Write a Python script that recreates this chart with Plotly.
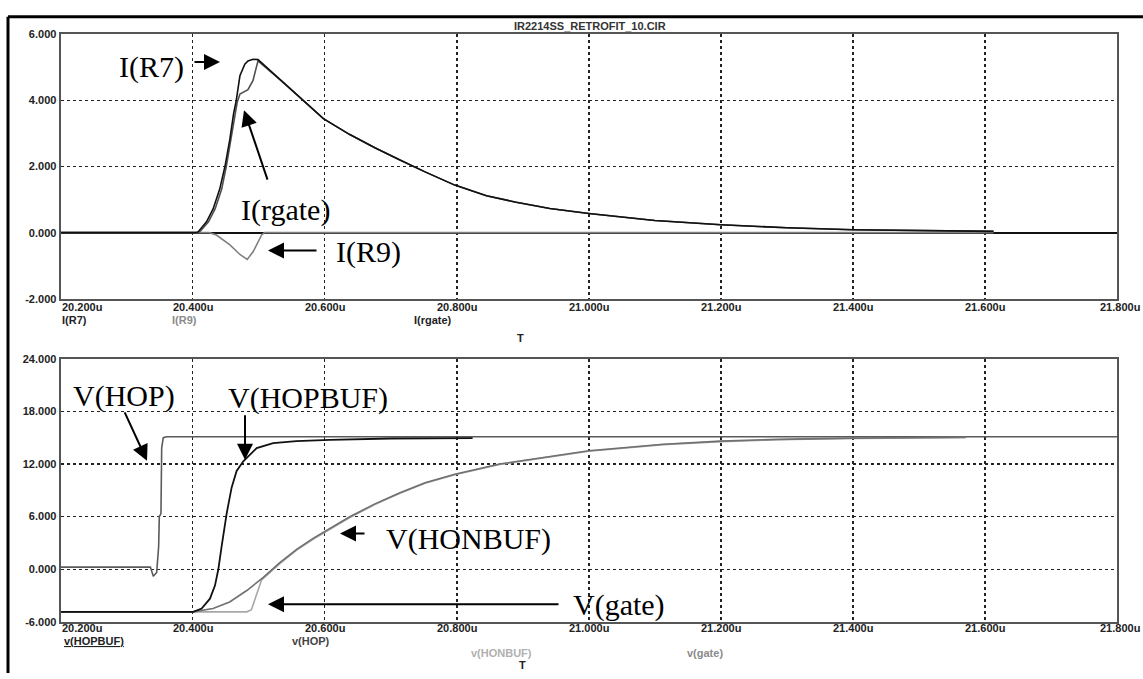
import plotly.graph_objects as go

W, H = 1143, 679
def px(x): return x / W
def py(y): return 1 - y / H

# ---------------- data (time in microseconds) ----------------
tick_t = [20.2, 20.4, 20.6, 20.8, 21.0, 21.2, 21.4, 21.6, 21.8]
top_ticks = [-2, 0, 2, 4, 6]
bot_ticks = [-6, 0, 6, 12, 18, 24]

t_r7 = [20.2, 20.405, 20.4085, 20.421, 20.431, 20.441, 20.449, 20.4565, 20.462, 20.466,
        20.4716, 20.479, 20.4838, 20.4915, 20.499, 20.537, 20.567, 20.598, 20.638, 20.676,
        20.714, 20.752, 20.797, 20.845, 20.89, 20.941, 21.0, 21.1, 21.2, 21.3, 21.4, 21.5,
        21.6, 21.613]
i_r7 = [0, 0, 0.03, 0.33, 0.72, 1.32, 2.01, 2.85, 3.6, 4.0,
        4.75, 5.1, 5.2, 5.25, 5.24, 4.55, 4.0, 3.45, 2.97, 2.57,
        2.2, 1.84, 1.44, 1.12, 0.92, 0.73, 0.58, 0.37, 0.24, 0.15, 0.09, 0.06,
        0.04, 0.04]

t_rgate = [20.2, 20.407, 20.411, 20.424, 20.434, 20.444, 20.451, 20.458, 20.4635, 20.4675,
           20.4716, 20.4766, 20.4838, 20.4913, 20.495, 20.499, 20.537, 20.567, 20.598, 20.638,
           20.676, 20.714, 20.752, 20.797, 20.845, 20.89, 20.941, 21.0, 21.1, 21.2, 21.3, 21.4,
           21.5, 21.6, 21.613]
i_rgate = [0, 0, 0.03, 0.33, 0.72, 1.32, 2.01, 2.8, 3.55, 3.95,
           4.2, 4.25, 4.33, 4.6, 4.85, 5.2, 4.55, 4.0, 3.45, 2.97,
           2.57, 2.2, 1.84, 1.44, 1.12, 0.92, 0.73, 0.58, 0.37, 0.24, 0.15, 0.09,
           0.06, 0.04, 0.04]

t_r9 = [20.2, 20.425, 20.436, 20.4565, 20.4716, 20.4826, 20.4918, 20.499, 20.5045, 20.509, 21.613]
i_r9 = [0, 0, -0.07, -0.37, -0.66, -0.81, -0.57, -0.27, -0.07, 0, 0]

t_hop = [20.2, 20.336, 20.3404, 20.3455, 20.3485, 20.3495, 20.352, 20.3531, 20.3555, 20.3606, 21.8]
v_hop = [0.25, 0.25, -0.8, -0.37, 2.6, 6.0, 6.35, 13.8, 15.0, 15.1, 15.1]

t_hopbuf = [20.2, 20.401, 20.4136, 20.4262, 20.4338, 20.4389, 20.4439, 20.4515, 20.459, 20.4666,
            20.4767, 20.497, 20.522, 20.557, 20.608, 20.70, 20.824]
v_hopbuf = [-4.85, -4.85, -4.47, -3.35, -1.86, 0.0, 2.6, 6.35, 9.3, 11.2,
            12.3, 13.8, 14.37, 14.6, 14.75, 14.9, 14.95]

t_honbuf = [20.2, 20.40, 20.431, 20.456, 20.482, 20.507, 20.532, 20.558, 20.583, 20.600,
            20.638, 20.676, 20.714, 20.752, 20.797, 20.865, 20.941, 21.0, 21.113, 21.2,
            21.285, 21.4, 21.571]
v_honbuf = [-4.85, -4.85, -4.47, -3.72, -2.42, -0.93, 0.75, 2.3, 3.55, 4.3,
            5.98, 7.45, 8.72, 9.85, 10.83, 12.0, 12.88, 13.5, 14.25, 14.6,
            14.8, 14.95, 15.05]

t_gate = [20.2, 20.482, 20.489, 20.494, 20.499, 20.5045, 20.532, 20.558, 20.583, 20.600,
          20.638, 20.676, 20.714, 20.752, 20.797, 20.865, 20.941, 21.0, 21.113, 21.2,
          21.285, 21.4, 21.571]
v_gate = [-4.85, -4.85, -4.6, -3.5, -2.2, -1.2, 0.65, 2.2, 3.45, 4.2,
          5.9, 7.38, 8.65, 9.8, 10.78, 11.95, 12.83, 13.45, 14.2, 14.55,
          14.75, 14.92, 15.0]

# ---------------- figure ----------------
fig = go.Figure()
def line(t, v, color, width, xa, ya):
    fig.add_trace(go.Scatter(x=t, y=v, mode="lines", line=dict(color=color, width=width),
                             xaxis=xa, yaxis=ya, showlegend=False, hoverinfo="skip"))

line(t_r9, i_r9, "#808080", 1.6, "x", "y")
line(t_rgate, i_rgate, "#505050", 1.6, "x", "y")
line(t_r7, i_r7, "#111111", 1.6, "x", "y")

line(t_hop, v_hop, "#5a5a5a", 1.6, "x2", "y2")
line(t_gate, v_gate, "#a8a8a8", 1.6, "x2", "y2")
line(t_honbuf, v_honbuf, "#707070", 1.6, "x2", "y2")
line(t_hopbuf, v_hopbuf, "#111111", 1.8, "x2", "y2")

tick_font = dict(family="Liberation Sans", size=11, color="#222222", weight="bold")
xdom = [px(60.6), px(1117)]
common_x = dict(domain=xdom, range=[20.2, 21.8], tickvals=tick_t, showticklabels=False,
                showgrid=True, gridcolor="#222222", griddash="dot", gridwidth=1.5,
                showline=True, linecolor="#555555", linewidth=2, mirror=True,
                zeroline=False, ticks="", fixedrange=True)
common_y = dict(showgrid=True, gridcolor="#222222", griddash="dot", gridwidth=1.5,
                showline=True, linecolor="#555555", linewidth=2, mirror=True,
                ticks="", tickfont=tick_font, fixedrange=True)

fig.update_layout(
    width=W, height=H, autosize=False,
    margin=dict(l=0, r=0, t=0, b=0),
    paper_bgcolor="white", plot_bgcolor="white",
    xaxis=dict(anchor="y", **common_x),
    xaxis2=dict(anchor="y2", **common_x),
    yaxis=dict(domain=[py(298), py(29)], range=[-2, 6], tickvals=top_ticks,
               ticktext=[f"{v:.3f}" for v in top_ticks], anchor="x",
               zeroline=True, zerolinecolor="#111111", zerolinewidth=2, **common_y),
    yaxis2=dict(domain=[py(627), py(359)], range=[-6, 24], tickvals=bot_ticks,
                ticktext=[f"{v:.3f}" for v in bot_ticks], anchor="x2",
                zeroline=False, **common_y),
)

ann = []
lab_font = dict(family="Liberation Sans", size=11, color="#222222", weight="bold")
# x tick labels
for xa, yline in (("x", 306), ("x2", 633)):
    for i, v in enumerate(tick_t):
        a = dict(x=v, y=py(yline), xref=xa, yref="paper", text=f"{v:.3f}u",
                 showarrow=False, xanchor="center", yanchor="middle", font=lab_font,
                 borderpad=0)
        if i == 0:
            a["xanchor"] = "left"
        elif i == len(tick_t) - 1:
            a["x"], a["xref"], a["xanchor"] = px(1141), "paper", "right"
        ann.append(a)

# series names under axes
ann += [
    dict(x=px(61), y=py(320), text="I(R7)", xanchor="left", font=lab_font),
    dict(x=px(184), y=py(320), text="I(R9)", xanchor="center",
         font=dict(lab_font, color="#8a8a8a")),
    dict(x=px(433), y=py(320), text="I(rgate)", xanchor="center", font=lab_font),
    dict(x=px(520), y=py(338), text="T", xanchor="center", font=lab_font),
    dict(x=px(63), y=py(646), text="<u>v(HOPBUF)</u>", xanchor="left", font=lab_font),
    dict(x=px(311), y=py(646), text="v(HOP)", xanchor="center", font=dict(lab_font, color="#444444")),
    dict(x=px(501), y=py(659), text="v(HONBUF)", xanchor="center", font=dict(lab_font, color="#b0b0b0")),
    dict(x=px(705), y=py(659), text="v(gate)", xanchor="center", font=dict(lab_font, color="#8a8a8a")),
    dict(x=px(522), y=py(671), text="T", xanchor="center", font=lab_font),
    dict(x=px(590), y=py(20), text="IR2214SS_RETROFIT_10.CIR", xanchor="center",
         font=dict(family="Liberation Sans", size=11, color="#333333", weight="bold")),
]
for a in ann:
    a.setdefault("xref", "paper")
    a.setdefault("yref", "paper")
    a.setdefault("showarrow", False)
    a.setdefault("yanchor", "middle")
    a.setdefault("borderpad", 0)

serif = dict(family="Liberation Serif", size=30, color="black")
callouts = [("I(R7)", 118, 62), ("I(rgate)", 240, 208), ("I(R9)", 335, 250),
            ("V(HOP)", 72, 397), ("V(HOPBUF)", 227, 399), ("V(HONBUF)", 385, 543),
            ("V(gate)", 572, 610)]
for txt, xl, yc in callouts:
    ann.append(dict(x=px(xl), y=py(yc), xref="paper", yref="paper", text=txt,
                    showarrow=False, xanchor="left", yanchor="middle", font=serif,
                    borderpad=0))

arrows = [((220, 57), (193, 57)), ((244, 106), (268, 177)), ((268, 249), (318, 249)),
          ((147, 463), (124, 413)), ((245, 462), (245, 416)), ((340, 537), (366, 537)),
          ((268, 609), (560, 609))]
for (hx, hy), (tx, ty) in arrows:
    ann.append(dict(x=px(hx), y=py(hy), xref="paper", yref="paper", text="",
                    showarrow=True, ax=tx - hx, ay=ty - hy, arrowhead=2,
                    arrowsize=1.6, arrowwidth=2, arrowcolor="black", standoff=0))

fig.update_layout(annotations=ann)

# outer frame (left and top edges)
fig.add_shape(type="line", xref="paper", yref="paper", x0=px(8), x1=1, y0=py(11), y1=py(11),
              line=dict(color="black", width=3))
fig.add_shape(type="line", xref="paper", yref="paper", x0=px(8), x1=px(8), y0=0, y1=py(11),
              line=dict(color="black", width=3))

fig.write_html("out.html",
               config={"displayModeBar": False, "staticPlot": True},
               post_script="document.body.style.margin='0px';"
                           "document.body.style.overflow='hidden';")
